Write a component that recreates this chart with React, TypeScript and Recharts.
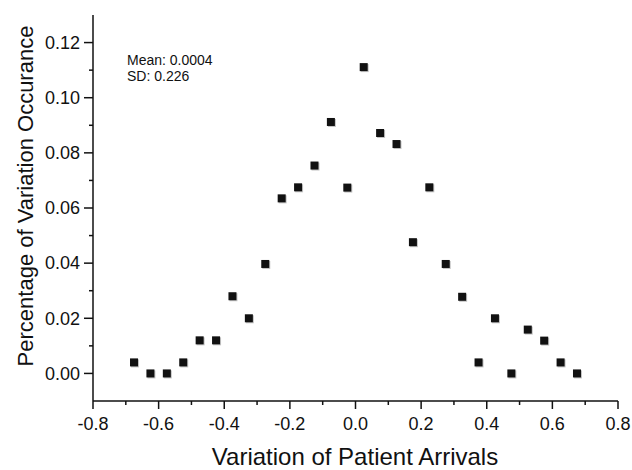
import React from "react"
import { ScatterChart, Scatter, XAxis, YAxis } from "recharts"

// variation of patient arrivals (bin centres)
const variation = [
  -0.675, -0.625, -0.575, -0.525, -0.475, -0.425, -0.375, -0.325, -0.275, -0.225,
  -0.175, -0.125, -0.075, -0.025, 0.025, 0.075, 0.125, 0.175, 0.225, 0.275,
  0.325, 0.375, 0.425, 0.475, 0.525, 0.575, 0.625, 0.675,
]

// percentage of variation occurance
const occurance = [
  0.004, 0, 0, 0.004, 0.012, 0.012, 0.028, 0.02, 0.0397, 0.0635,
  0.0675, 0.0754, 0.0912, 0.0674, 0.1111, 0.0872, 0.0832, 0.0476, 0.0675, 0.0397,
  0.0278, 0.004, 0.02, 0, 0.0159, 0.0119, 0.004, 0,
]

const xTicks = [-0.8, -0.7, -0.6, -0.5, -0.4, -0.3, -0.2, -0.1, 0, 0.1, 0.2, 0.3, 0.4, 0.5, 0.6, 0.7, 0.8]
const yTicks = [0, 0.01, 0.02, 0.03, 0.04, 0.05, 0.06, 0.07, 0.08, 0.09, 0.1, 0.11, 0.12]

const statLines = ["Mean: 0.0004", "SD: 0.226"]

const data = variation.map((x, i) => ({ x, y: occurance[i] }))

const INK = "#111"
const FONT = "'Liberation Sans', Arial, Helvetica, sans-serif"

const isMajorX = (v: number) => Math.abs(Math.round(v * 10)) % 2 === 0
const isMajorY = (v: number) => Math.abs(Math.round(v * 100)) % 2 === 0

function BottomTick(props: any) {
  const { x, y, payload } = props
  const v = payload.value
  const major = isMajorX(v)
  const axisY = y - 12
  return (
    <g>
      <line x1={x} x2={x} y1={axisY} y2={axisY + (major ? 8 : 4)} stroke={INK} strokeWidth={1.5} />
      {major && (
        <text x={x} y={axisY + 29} textAnchor="middle" fontSize={18} fill={INK} fontFamily={FONT}>
          {v.toFixed(1)}
        </text>
      )}
    </g>
  )
}

function LeftTick(props: any) {
  const { x, y, payload } = props
  const v = payload.value
  const major = isMajorY(v)
  const axisX = x + 12
  return (
    <g>
      <line x1={axisX} x2={axisX - (major ? 9 : 4)} y1={y} y2={y} stroke={INK} strokeWidth={1.5} />
      {major && (
        <text x={axisX - 13} y={y} dy="0.35em" textAnchor="end" fontSize={18} fill={INK} fontFamily={FONT}>
          {v.toFixed(2)}
        </text>
      )}
    </g>
  )
}

function TopTick(props: any) {
  const { x, y } = props
  return <line x1={x} x2={x} y1={y} y2={y + 3} stroke="#444" strokeWidth={1} />
}

function RightTick(props: any) {
  const { x, y } = props
  return <line x1={x} x2={x - 3} y1={y} y2={y} stroke="#444" strokeWidth={1} />
}

function SquareMarker(props: any) {
  const { cx, cy } = props
  return (
    <g>
      <rect x={cx - 3} y={cy - 3} width={8} height={8} fill="#c4c4c4" />
      <rect x={cx - 4} y={cy - 4} width={8} height={8} fill={INK} />
    </g>
  )
}

export default function App() {
  return (
    <div style={{ position: "absolute", left: 0, top: 0, background: "#fff" }}>
      <ScatterChart width={632} height={470} margin={{ top: 15, right: 14, bottom: 0, left: 0 }}>
        <XAxis
          xAxisId="bottom"
          type="number"
          dataKey="x"
          domain={[-0.8, 0.8]}
          ticks={xTicks}
          interval={0}
          allowDataOverflow
          height={69}
          tickSize={8}
          tickMargin={4}
          tickLine={false}
          axisLine={{ stroke: INK, strokeWidth: 1.5 }}
          tick={<BottomTick />}
        />
        <XAxis
          xAxisId="top"
          orientation="top"
          type="number"
          domain={[-0.8, 0.8]}
          ticks={xTicks}
          interval={0}
          allowDataOverflow
          height={0}
          tickSize={0}
          tickMargin={0}
          tickLine={false}
          axisLine={{ stroke: "#333", strokeWidth: 1.5 }}
          tick={<TopTick />}
        />
        <YAxis
          yAxisId="left"
          type="number"
          dataKey="y"
          domain={[-0.01, 0.13]}
          ticks={yTicks}
          interval={0}
          allowDataOverflow
          width={93}
          tickSize={8}
          tickMargin={4}
          tickLine={false}
          axisLine={{ stroke: INK, strokeWidth: 1.5 }}
          tick={<LeftTick />}
        />
        <YAxis
          yAxisId="right"
          orientation="right"
          type="number"
          domain={[-0.01, 0.13]}
          ticks={yTicks}
          interval={0}
          allowDataOverflow
          width={0}
          tickSize={0}
          tickMargin={0}
          tickLine={false}
          axisLine={{ stroke: "#333", strokeWidth: 1.5 }}
          tick={<RightTick />}
        />
        <Scatter
          xAxisId="bottom"
          yAxisId="left"
          data={data}
          shape={<SquareMarker />}
          isAnimationActive={false}
        />
        <text fontFamily={FONT} fontSize={14} fill={INK}>
          {statLines.map((line, i) => (
            <tspan key={line} x={127} y={65 + i * 16}>
              {line}
            </tspan>
          ))}
        </text>
        <text
          x={355}
          y={465}
          textAnchor="middle"
          fontFamily={FONT}
          fontSize={24}
          fill={INK}
        >
          Variation of Patient Arrivals
        </text>
        <text
          x={33}
          y={196}
          transform="rotate(-90 33 196)"
          textAnchor="middle"
          fontFamily={FONT}
          fontSize={22}
          fill={INK}
        >
          Percentage of Variation Occurance
        </text>
      </ScatterChart>
    </div>
  )
}
